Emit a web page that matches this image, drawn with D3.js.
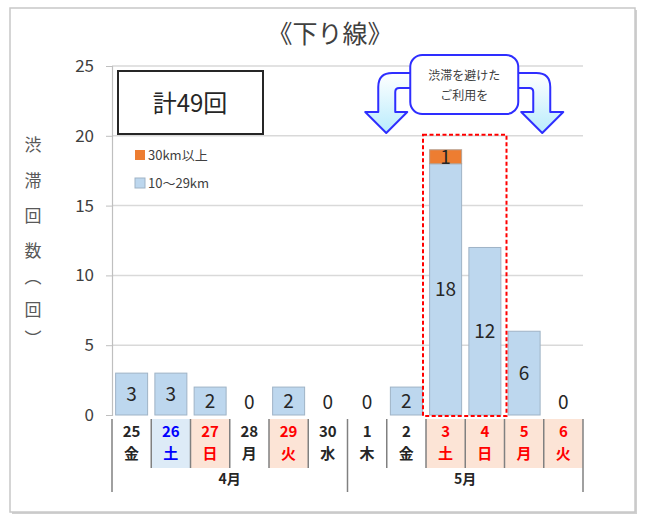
<!DOCTYPE html>
<html><head><meta charset="utf-8">
<script src="https://cdn.jsdelivr.net/npm/d3@7"></script>
<style>
html,body{margin:0;padding:0;background:#fff;}
svg text{font-family:"Noto Sans CJK JP","Noto Sans",sans-serif;}
</style></head>
<body><svg id="c" width="650" height="524"></svg>
<script>
// ---- data ----
const days = ['25','26','27','28','29','30','1','2','3','4','5','6'];
const weekdays = ['金','土','日','月','火','水','木','金','土','日','月','火'];
const dayKinds = ['w','sat','hol','w','hol','w','w','w','hol','hol','hol','hol'];
const months = ['4月','5月'];
const monthSpans = [6,6];
const series10to29 = [3,3,2,0,2,0,0,2,18,12,6,0];
const series30plus = [0,0,0,0,0,0,0,0,1,0,0,0];
const yTicks = [0,5,10,15,20,25];
const seriesNames = ['30km以上','10～29km'];
const totalLabel = '計49回';
const title = '《下り線》';
const yTitleChars = ['渋','滞','回','数','︵','回','︶'];
const calloutLines = ['渋滞を避けた','ご利用を'];
const highlightIdx = [8,9];

const svg = d3.select('#c');
const L = 112, R = 583, T = 66, B = 415;
const idx = d3.range(days.length);
const x = d3.scaleBand().domain(idx).range([L,R]).paddingInner(0.185).paddingOuter(0.0925);
const xt = d3.scaleBand().domain(idx).range([L,R]).padding(0);
const y = d3.scaleLinear().domain([0,25]).range([B,T]);

// outer frame
svg.append('rect').attr('x',12).attr('y',10).attr('width',625).attr('height',504).attr('fill','#d0d0d0');
svg.append('rect').attr('x',10).attr('y',8).attr('width',625).attr('height',504).attr('fill','#fff').attr('stroke','#c8c8c8').attr('stroke-width',1.5);

// title
svg.append('text').attr('x',330).attr('y',34).attr('dy','0.36em').attr('text-anchor','middle').attr('font-size',25).attr('fill','#404040').text(title);

// gridlines
svg.append('g').selectAll('line').data(yTicks.filter(d=>d>0)).join('line')
  .attr('x1',L).attr('x2',R).attr('y1',d=>y(d)).attr('y2',d=>y(d))
  .attr('stroke','#d9d9d9').attr('stroke-width',1.5);

// y axis
const yAxis = d3.axisLeft(y).tickValues(yTicks).tickSize(6).tickPadding(12);
const gy = svg.append('g').attr('transform',`translate(${L},0)`).call(yAxis);
gy.select('.domain').attr('stroke','#bfbfbf').attr('stroke-width',1.2);
gy.selectAll('.tick line').attr('stroke','#bfbfbf');
gy.selectAll('.tick text').attr('font-size',17).attr('fill','#404040')
  .attr('font-family','"Noto Sans","Noto Sans CJK JP",sans-serif');

// y title, one character per line
const yTitleY = [145,181,216,251,277,310,339];
svg.append('g').selectAll('text').data(yTitleChars).join('text')
  .attr('x',33).attr('y',(d,i)=>yTitleY[i]).attr('dy','0.35em').attr('text-anchor','middle')
  .attr('font-size',17).attr('fill','#595959').text(d=>d);

// bars
const gb = svg.append('g');
gb.selectAll('rect.s1').data(idx.filter(i=>series10to29[i]>0)).join('rect')
  .attr('x',i=>x(i)).attr('width',x.bandwidth())
  .attr('y',i=>y(series10to29[i])).attr('height',i=>y(0)-y(series10to29[i]))
  .attr('fill','#bdd7ee').attr('stroke','#9fb3c6').attr('stroke-width',1);
gb.selectAll('rect.s2').data(idx.filter(i=>series30plus[i]>0)).join('rect')
  .attr('x',i=>x(i)).attr('width',x.bandwidth())
  .attr('y',i=>y(series10to29[i]+series30plus[i])).attr('height',i=>y(0)-y(series30plus[i]))
  .attr('fill','#ed7d31').attr('stroke','#b8a090').attr('stroke-width',1);

// value labels
svg.append('g').selectAll('text').data(idx).join('text')
  .attr('x',i=>x(i)+x.bandwidth()/2)
  .attr('y',i=>series10to29[i]>0 ? (y(0)+y(series10to29[i]))/2 : y(0)-13)
  .attr('dy','0.36em').attr('text-anchor','middle').attr('font-size',19).attr('fill','#262626')
  .text(i=>series10to29[i]);
svg.append('g').selectAll('text').data(idx.filter(i=>series30plus[i]>0)).join('text')
  .attr('x',i=>x(i)+x.bandwidth()/2)
  .attr('y',i=>(y(series10to29[i])+y(series10to29[i]+series30plus[i]))/2)
  .attr('dy','0.36em').attr('text-anchor','middle').attr('font-size',19).attr('fill','#262626')
  .text(i=>series30plus[i]);

// category table
const rowTop = 419, rowBot = 468, monthBot = 492;
const bg = {w:'none', sat:'#ddebf7', hol:'#fce4d6'};
const fg = {w:'#262626', sat:'#0000ff', hol:'#ff0000'};
const gt = svg.append('g');
gt.selectAll('rect').data(idx).join('rect')
  .attr('x',i=>xt(i)).attr('width',xt.bandwidth()).attr('y',rowTop).attr('height',rowBot-rowTop)
  .attr('fill',i=>bg[dayKinds[i]]);
gt.selectAll('text.d').data(idx).join('text').attr('class','d')
  .attr('x',i=>xt(i)+xt.bandwidth()/2).attr('y',432).attr('dy','0.35em').attr('text-anchor','middle')
  .attr('font-size',15).attr('font-weight','bold').attr('fill',i=>fg[dayKinds[i]]).text(i=>days[i]);
gt.selectAll('text.w').data(idx).join('text').attr('class','w')
  .attr('x',i=>xt(i)+xt.bandwidth()/2).attr('y',454).attr('dy','0.35em').attr('text-anchor','middle')
  .attr('font-size',15).attr('font-weight','bold').attr('fill',i=>fg[dayKinds[i]]).text(i=>weekdays[i]);
// separators
const monthStarts = monthSpans.map((s,k)=>d3.sum(monthSpans.slice(0,k)));
const longIdx = monthStarts.concat([days.length]);
const xb = k => k<days.length ? xt(k) : R;
gt.selectAll('line.sep').data(d3.range(days.length+1).filter(k=>!longIdx.includes(k))).join('line')
  .attr('x1',xb).attr('x2',xb).attr('y1',rowTop).attr('y2',rowBot)
  .attr('stroke','#808080').attr('stroke-width',1.5);
gt.selectAll('line.lng').data(longIdx).join('line')
  .attr('x1',xb).attr('x2',xb).attr('y1',rowTop).attr('y2',monthBot)
  .attr('stroke','#808080').attr('stroke-width',1.5);
gt.selectAll('text.m').data(months).join('text')
  .attr('x',(d,k)=>{const s=monthStarts[k], e=s+monthSpans[k]; return (xb(s)+xb(e))/2;})
  .attr('y',479).attr('dy','0.35em').attr('text-anchor','middle')
  .attr('font-size',14).attr('font-weight','bold').attr('fill','#262626').text(d=>d);

// total box
svg.append('rect').attr('x',118).attr('y',71).attr('width',145).attr('height',63)
  .attr('fill','#fff').attr('stroke','#262626').attr('stroke-width',2);
svg.append('text').attr('x',190).attr('y',103).attr('dy','0.36em').attr('text-anchor','middle')
  .attr('font-size',24).attr('fill','#262626').text(totalLabel);

// legend
const legColors = ['#ed7d31','#bdd7ee'];
const lg = svg.append('g');
seriesNames.forEach((n,k)=>{
  const cy = 155 + k*28;
  lg.append('rect').attr('x',135).attr('y',cy-5).attr('width',10).attr('height',10)
    .attr('fill',legColors[k]).attr('stroke',k?'#9fb3c6':'none');
  lg.append('text').attr('x',148).attr('y',cy).attr('dy','0.35em').attr('font-size',13)
    .attr('fill','#404040').text(n);
});

// highlight dashed box
const hx0 = xt(highlightIdx[0]) - 3;
const hx1 = xt(highlightIdx[1]) + xt.bandwidth() + 2;
svg.append('rect').attr('x',hx0).attr('y',y(20)-1).attr('width',hx1-hx0).attr('height',y(0)+1-(y(20)-1))
  .attr('fill','none').attr('stroke','#ff0000').attr('stroke-width',2).attr('stroke-dasharray','4,2.5');

// callout arrows
const cx = xt(highlightIdx[1]) - 1;
const defs = svg.append('defs');
const grad = defs.append('linearGradient').attr('id','ag').attr('x1',0).attr('y1',0).attr('x2',0).attr('y2',1);
grad.append('stop').attr('offset','0%').attr('stop-color','#ffffff');
grad.append('stop').attr('offset','100%').attr('stop-color','#b9ecfc');
const arrowPath = `M ${cx-40},73 L ${cx-72},73 Q ${cx-86},73 ${cx-86},87 L ${cx-86},112 L ${cx-99},112 L ${cx-78},133 L ${cx-57},112 L ${cx-69},112 L ${cx-69},92 Q ${cx-69},88 ${cx-65},88 L ${cx-40},88 Z`;
svg.append('path').attr('d',arrowPath).attr('fill','url(#ag)').attr('stroke','#2e2eff').attr('stroke-width',2).attr('stroke-linejoin','round');
svg.append('path').attr('d',arrowPath).attr('transform',`translate(${2*cx},0) scale(-1,1)`)
  .attr('fill','url(#ag)').attr('stroke','#2e2eff').attr('stroke-width',2).attr('stroke-linejoin','round');
svg.append('rect').attr('x',cx-54).attr('y',55).attr('width',108).attr('height',59).attr('rx',12)
  .attr('fill','#fff').attr('stroke','#2e2eff').attr('stroke-width',2);
svg.append('g').selectAll('text').data(calloutLines).join('text')
  .attr('x',cx).attr('y',(d,k)=>76+k*20).attr('dy','0.35em').attr('text-anchor','middle')
  .attr('font-size',12).attr('fill','#404040').text(d=>d);
</script></body></html>
